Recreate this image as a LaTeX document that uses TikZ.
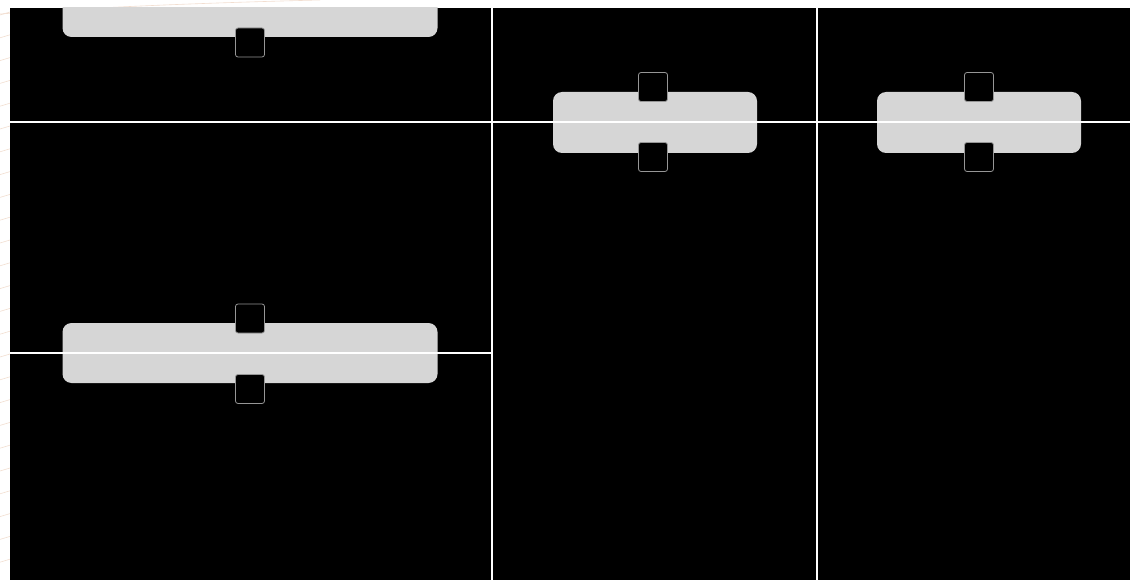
\documentclass[tikz,border=0pt]{standalone}
\definecolor{bargray}{RGB}{214,214,214}
\definecolor{sqedge}{RGB}{150,150,150}
\definecolor{paperline}{RGB}{242,222,208}
\tikzset{
  bar/.style={rectangle, rounded corners=9pt, fill=bargray, draw=none, inner sep=0pt},
  sq/.style={rectangle, rounded corners=2.5pt, fill=black, draw=sqedge, line width=0.8pt, minimum size=29pt, inner sep=0pt},
  gridline/.style={white, line width=2pt},
  paper/.style={paperline, line width=0.6pt}
}
\begin{document}
\begin{tikzpicture}[x=1pt,y=-1pt]
\useasboundingbox (0,0) rectangle (1130,580);
\fill[white] (0,0) rectangle (1130,580);
% faint paper lines in the left margin
\foreach \k in {0,...,24} \draw[paper] (0,{15+22.8*\k}) -- (10,{12+22.8*\k});
\draw[paper] (0,14) .. controls (100,7) and (200,3) .. (320,0);
% black panel
\fill[black] (9.5,8) rectangle (1130,580);
\begin{scope}
\clip (9.5,8) rectangle (1130,580);
% bars
\node[bar, minimum width=375pt, minimum height=60pt] (b1) at (250,7) {};
\node[bar, minimum width=204pt, minimum height=61pt] (b2) at (655,122.5) {};
\node[bar, minimum width=204pt, minimum height=61pt] (b3) at (979,122.5) {};
\node[bar, minimum width=375pt, minimum height=60pt] (b4) at (250,353) {};
% grid lines
\coordinate (v1t) at (491.5,8);   \coordinate (v1b) at (491.5,580);
\coordinate (v2t) at (816.5,8);   \coordinate (v2b) at (816.5,580);
\coordinate (h1l) at (9.5,122);   \coordinate (h1r) at (1130,122);
\coordinate (h2l) at (9.5,352.5); \coordinate (h2r) at (491.5,352.5);
\draw[gridline] (v1t) -- (v1b);
\draw[gridline] (v2t) -- (v2b);
\draw[gridline] (h1l) -- (h1r);
\draw[gridline] (h2l) -- (h2r);
% handles
\node[sq] (s1) at (250,42.5) {};
\node[sq] (s2a) at (653,87) {};
\node[sq] (s2b) at (653,157) {};
\node[sq] (s3a) at (979,87) {};
\node[sq] (s3b) at (979,157) {};
\node[sq] (s4a) at (250,318.5) {};
\node[sq] (s4b) at (250,389) {};
\end{scope}
\end{tikzpicture}
\end{document}
